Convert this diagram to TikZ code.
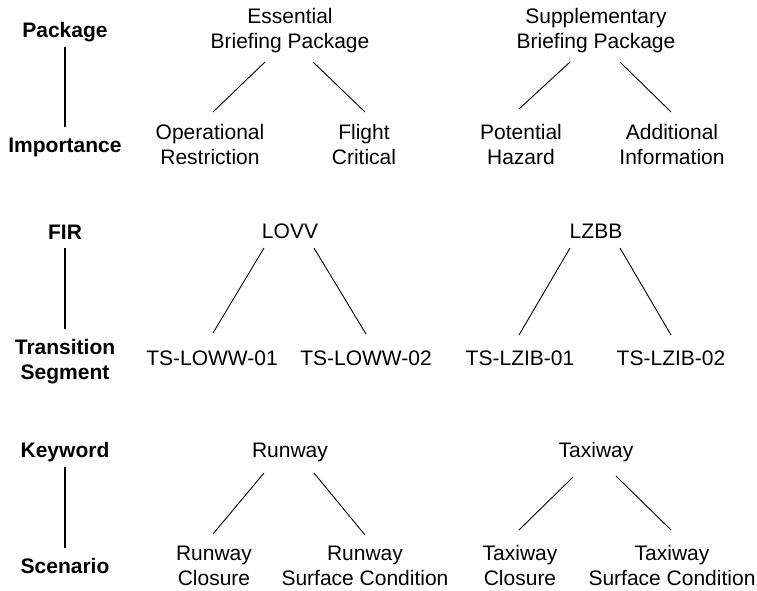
\documentclass[tikz,border=0pt]{standalone}
\usepackage{fontspec}
\setmainfont{Liberation Sans}
\usetikzlibrary{calc}
\begin{document}
\begin{tikzpicture}[x=1pt,y=-1pt,
  item/.style={font=\fontsize{21}{25}\selectfont, align=center, inner sep=0pt},
  lbl/.style={font=\fontsize{21}{25}\selectfont\bfseries, align=center, inner sep=0pt},
  edge/.style={line width=0.9pt},
  axis/.style={line width=2.8pt}]
\fill[white] (0,0) rectangle (757,591);
\useasboundingbox (0,0) rectangle (757,591);

% left labels
\node[lbl] (pkg) at (65,32.5) {\strut Package};
\node[lbl] (imp) at (65,147.5) {\strut Importance};
\node[lbl] (fir) at (65,234) {\strut FIR};
\node[lbl] (ts) at (65,362) {\strut Transition\\\strut Segment};
\node[lbl] (kw) at (65,452.5) {\strut Keyword};
\node[lbl] (sc) at (65,568.5) {\strut Scenario};

\draw[axis] ($(pkg.center)+(0,14.5)$) -- ($(imp.center)+(0,-20.5)$);
\draw[axis] ($(fir.center)+(0,14)$) -- ($(ts.center)+(0,-33)$);
\draw[axis] ($(kw.center)+(0,14.5)$) -- ($(sc.center)+(0,-20.5)$);

% row 1
\node[item] (ebp) at (290,31.5) {\strut Essential\\\strut Briefing Package};
\node[item] (sbp) at (596,31.5) {\strut Supplementary\\\strut Briefing Package};
\node[item] (opr) at (210,147) {\strut Operational\\\strut Restriction};
\node[item] (flc) at (364,147) {\strut Flight\\\strut Critical};
\node[item] (poh) at (521,147) {\strut Potential\\\strut Hazard};
\node[item] (adi) at (672,147) {\strut Additional\\\strut Information};

\draw[edge] ($(ebp.center)+(-25,30.5)$) -- ($(opr.center)+(3,-35)$);
\draw[edge] ($(ebp.center)+(23,30.5)$) -- ($(flc.center)+(1,-35)$);
\draw[edge] ($(sbp.center)+(-26,30.5)$) -- ($(poh.center)+(-2,-38)$);
\draw[edge] ($(sbp.center)+(24,30.5)$) -- ($(adi.center)+(-1,-35)$);

% row 2
\node[item] (lovv) at (290,233) {\strut LOVV};
\node[item] (lzbb) at (596,233) {\strut LZBB};
\node[item] (tsa) at (212,360.5) {\strut TS-LOWW-01};
\node[item] (tsb) at (366,360.5) {\strut TS-LOWW-02};
\node[item] (tsc) at (520,360.5) {\strut TS-LZIB-01};
\node[item] (tsd) at (671,360.5) {\strut TS-LZIB-02};

\draw[edge] ($(lovv.center)+(-26,15)$) -- ($(tsa.center)+(1,-27.5)$);
\draw[edge] ($(lovv.center)+(24,15)$) -- ($(tsb.center)+(0,-26.5)$);
\draw[edge] ($(lzbb.center)+(-26,15)$) -- ($(tsc.center)+(-1,-25.5)$);
\draw[edge] ($(lzbb.center)+(24,15)$) -- ($(tsd.center)+(0,-25.5)$);

% row 3
\node[item] (rwy) at (290,452.5) {\strut Runway};
\node[item] (twy) at (596,452.5) {\strut Taxiway};
\node[item] (rc) at (214,568) {\strut Runway\\\strut Closure};
\node[item] (rsc) at (365,568) {\strut Runway\\\strut Surface Condition};
\node[item] (tc) at (520,568) {\strut Taxiway\\\strut Closure};
\node[item] (tsco) at (672,568) {\strut Taxiway\\\strut Surface Condition};

\draw[edge] ($(rwy.center)+(-26,20.5)$) -- ($(rc.center)+(-1,-34)$);
\draw[edge] ($(rwy.center)+(24,20.5)$) -- ($(rsc.center)+(0,-33)$);
\draw[edge] ($(twy.center)+(-23,24.5)$) -- ($(tc.center)+(-1,-38)$);
\draw[edge] ($(twy.center)+(20,23.5)$) -- ($(tsco.center)+(-1,-38)$);
\end{tikzpicture}
\end{document}
